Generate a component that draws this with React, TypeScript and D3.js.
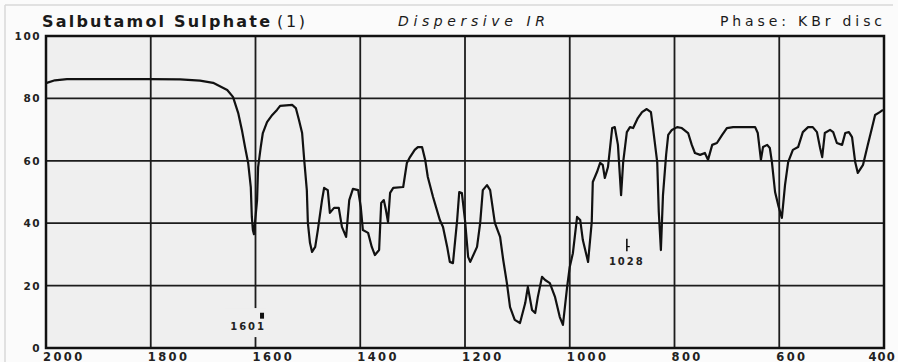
import React from "react";
import * as d3 from "d3";

// IR spectrum of salbutamol sulphate
const wavenumber = [
  2000, 1983, 1960, 1897, 1801, 1744, 1706, 1681, 1654, 1643, 1633, 1626, 1620, 1614, 1609, 1607,
  1605, 1603, 1597, 1595, 1590, 1586, 1578, 1568, 1559, 1553, 1530, 1523, 1517, 1511, 1507, 1502,
  1500, 1496, 1492, 1486, 1481, 1473, 1469, 1462, 1458, 1450, 1441, 1435, 1427, 1421, 1414, 1404,
  1399, 1395, 1385, 1378, 1372, 1364, 1360, 1355, 1351, 1347, 1343, 1337, 1318, 1311, 1305, 1296,
  1290, 1282, 1276, 1271, 1261, 1248, 1242, 1234, 1229, 1223, 1215, 1211, 1206, 1200, 1194, 1190,
  1177, 1171, 1166, 1158, 1152, 1143, 1133, 1127, 1120, 1114, 1105, 1095, 1085, 1080, 1072, 1066,
  1061, 1053, 1047, 1038, 1028, 1019, 1013, 1005, 1000, 994, 986, 980, 975, 965, 958, 956,
  948, 942, 937, 933, 927, 919, 914, 908, 902, 898, 891, 885, 879, 870, 862, 853,
  845, 841, 833, 830, 826, 822, 816, 812, 805, 795, 786, 774, 767, 761, 751, 742,
  736, 728, 719, 709, 700, 688, 646, 641, 635, 631, 623, 618, 614, 608, 602, 595,
  589, 583, 574, 564, 555, 545, 536, 528, 522, 518, 513, 503, 497, 490, 480, 474,
  467, 461, 455, 450, 440, 431, 423, 417, 408, 402,
];
const transmittance = [
  84.9, 85.8, 86.2, 86.2, 86.2, 86.1, 85.7, 85.0, 82.7, 80.5, 75.3, 69.9, 64.4, 59.3, 51.6, 42.0,
  37.8, 36.5, 47.4, 58.0, 64.4, 68.9, 72.4, 74.7, 76.3, 77.6, 77.9, 76.9, 73.1, 68.9, 60.3, 50.6,
  40.1, 33.7, 30.8, 32.4, 37.8, 47.4, 51.3, 50.6, 43.3, 44.9, 44.9, 38.8, 35.6, 47.4, 51.0, 50.6,
  45.2, 37.8, 36.9, 32.4, 29.8, 31.4, 46.5, 47.4, 44.2, 40.4, 49.7, 51.3, 51.6, 59.3, 61.2, 63.5,
  64.4, 64.4, 60.3, 54.8, 48.4, 41.0, 38.8, 32.4, 27.6, 27.2, 41.0, 50.0, 49.7, 41.0, 29.2, 27.6,
  32.4, 40.1, 50.6, 52.2, 50.6, 40.1, 35.6, 28.2, 20.8, 13.1, 9.0, 8.0, 14.4, 19.6, 12.2, 11.2,
  16.3, 22.8, 21.8, 20.8, 16.3, 9.9, 7.4, 19.6, 26.0, 30.4, 42.0, 41.0, 34.6, 27.6, 40.4, 53.2,
  56.4, 59.3, 58.7, 54.5, 58.0, 70.5, 70.8, 65.1, 49.0, 59.6, 69.2, 70.8, 70.5, 73.7, 75.6, 76.6,
  75.6, 70.5, 59.6, 43.6, 31.4, 49.0, 61.9, 68.3, 69.9, 70.8, 70.5, 68.9, 65.1, 62.5, 61.9, 62.5,
  60.3, 65.1, 65.7, 68.3, 70.5, 70.8, 70.8, 68.9, 60.3, 64.4, 65.1, 64.1, 59.6, 50.0, 45.8, 41.7,
  52.2, 59.6, 63.5, 64.4, 69.2, 70.8, 70.8, 69.2, 64.1, 61.2, 68.9, 69.9, 69.2, 65.7, 65.1, 68.9,
  69.2, 67.6, 59.6, 56.1, 58.7, 65.1, 70.5, 74.7, 75.6, 76.3,
];

const xTicks = [2000, 1800, 1600, 1400, 1200, 1000, 800, 600, 400];
const yTicks = [100, 80, 60, 40, 20, 0];
const peakLabels = ["1601", "1028"];
const peakAt = [1599, 891];

const W = 898;
const H = 362;
const FONT = "'DejaVu Sans', Verdana, sans-serif";

export default function App() {
  const x = d3.scaleLinear().domain([2000, 400]).range([46, 884]);
  const y = d3.scaleLinear().domain([0, 100]).range([348, 36]);

  const pts: [number, number][] = wavenumber.map((w, i) => [w, transmittance[i]]);
  const line = d3
    .line<[number, number]>()
    .x((d) => x(d[0]))
    .y((d) => y(d[1]));

  const [x0, x1] = x.range();
  const [yb, yt] = y.range();

  return (
    <svg
      width={W}
      height={H}
      style={{ position: "absolute", left: 0, top: 0, background: "#fbfbfb" }}
    >
      {/* faint scan frame */}
      <line x1={5} x2={893} y1={5} y2={5} stroke="#d8d8d8" strokeWidth={1.5} />
      <line x1={5} x2={5} y1={5} y2={H} stroke="#d8d8d8" strokeWidth={1.5} />

      {/* title row */}
      <text x={42} y={27} fontFamily={FONT} fontSize={16} fontWeight="bold" fill="#1a1a1a"
        textLength={228} lengthAdjust="spacing">Salbutamol Sulphate</text>
      <text x={277} y={27} fontFamily={FONT} fontSize={16} fill="#1a1a1a"
        textLength={28} lengthAdjust="spacing">(1)</text>
      <text x={398} y={26} fontFamily={FONT} fontSize={14} fontStyle="italic" fill="#1a1a1a"
        textLength={147} lengthAdjust="spacing">Dispersive IR</text>
      <text x={720} y={26} fontFamily={FONT} fontSize={14} fill="#1a1a1a"
        textLength={162} lengthAdjust="spacing">Phase: KBr disc</text>

      {/* plot background */}
      <rect x={x0} y={yt} width={x1 - x0} height={yb - yt} fill="#efefef" />

      {/* grid */}
      {yTicks.map((t) => (
        <line key={"h" + t} x1={x0} x2={x1} y1={y(t)} y2={y(t)} stroke="#1c1c1c" strokeWidth={1.8} />
      ))}
      {xTicks.map((t) => (
        <line key={"v" + t} x1={x(t)} x2={x(t)} y1={yt} y2={yb} stroke="#1c1c1c" strokeWidth={1.8} />
      ))}
      <rect x={x0} y={yt} width={x1 - x0} height={yb - yt} fill="none" stroke="#111" strokeWidth={2.5} />

      {/* y tick labels */}
      {yTicks.map((t) => (
        <text key={"yl" + t} x={41} y={y(t) + 4} textAnchor="end" fontFamily={FONT} fontSize={10.5}
          fontWeight="bold" fill="#222" letterSpacing={1.5}>{t}</text>
      ))}

      {/* x tick labels (last one pulled inside the page edge) */}
      {xTicks.map((t, i) => {
        const last = i === xTicks.length - 1;
        return (
          <text key={"xl" + t} x={last ? W - 2 : x(t) - 3} y={360.5}
            textAnchor={last ? "end" : "start"} fontFamily={FONT} fontSize={11.5}
            fontWeight="bold" fill="#222" letterSpacing={last ? 1.2 : 2.4}>{t}</text>
        );
      })}

      {/* spectrum */}
      <path d={line(pts) || ""} fill="none" stroke="#111" strokeWidth={2.2} strokeLinejoin="round" />

      {/* peak annotation 1601: gap in the grid line, marker and label */}
      <rect x={x(peakAt[0]) - 32} y={y(12.8)} width={42} height={y(3.5) - y(12.8)} fill="#efefef" />
      <rect x={x(peakAt[0]) + 4} y={y(11.3)} width={4} height={y(9.4) - y(11.3)} fill="#111" />
      <text x={x(peakAt[0]) + 10} y={y(5.8)} textAnchor="end" fontFamily={FONT} fontSize={10}
        fontWeight="bold" fill="#222" letterSpacing={2}>{peakLabels[0]}</text>

      {/* peak annotation 1028 */}
      <line x1={x(peakAt[1])} x2={x(peakAt[1])} y1={y(35)} y2={y(31)} stroke="#111" strokeWidth={1.6} />
      <line x1={x(peakAt[1])} x2={x(peakAt[1]) + 3} y1={y(32.5)} y2={y(32.5)} stroke="#111" strokeWidth={1.2} />
      <text x={x(peakAt[1])} y={y(26.5)} textAnchor="middle" fontFamily={FONT} fontSize={10}
        fontWeight="bold" fill="#222" letterSpacing={2}>{peakLabels[1]}</text>
    </svg>
  );
}
